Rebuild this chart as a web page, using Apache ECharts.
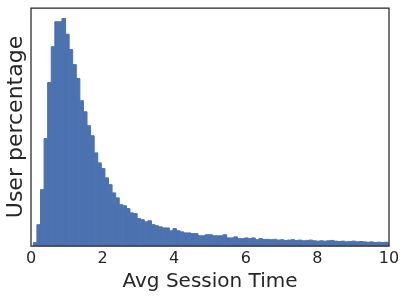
<!DOCTYPE html>
<html>
<head>
<meta charset="utf-8">
<script src="https://cdn.jsdelivr.net/npm/echarts@6/dist/echarts.min.js"></script>
<style>
html,body{margin:0;padding:0;background:#fff;}
#c{width:405px;height:297px;}
</style>
</head>
<body>
<div id="c"></div>
<script>
// Histogram data: bin start, bin width, and user percentage per bin
var binStart = 0.065;
var binWidth = 0.1;
var userPct = [
  0.11, 0.61, 1.59, 3.02, 4.59, 5.59, 6.29, 6.29, 6.38, 5.94,
  5.51, 5.09, 4.70, 4.08, 3.77, 3.38, 3.10, 2.62, 2.34, 2.18,
  1.92, 1.73, 1.50, 1.36, 1.17, 1.14, 1.06, 0.94, 0.92, 0.78,
  0.75, 0.69, 0.72, 0.61, 0.58, 0.55, 0.52, 0.52, 0.44, 0.50,
  0.44, 0.41, 0.38, 0.38, 0.36, 0.36, 0.30, 0.30, 0.33, 0.33,
  0.30, 0.30, 0.30, 0.33, 0.24, 0.24, 0.27, 0.22, 0.22, 0.24,
  0.22, 0.24, 0.19, 0.22, 0.20, 0.20, 0.19, 0.20, 0.18, 0.19,
  0.17, 0.18, 0.19, 0.17, 0.18, 0.16, 0.17, 0.18, 0.16, 0.15,
  0.16, 0.15, 0.16, 0.17, 0.15, 0.14, 0.15, 0.13, 0.14, 0.15,
  0.13, 0.14, 0.13, 0.12, 0.13, 0.11, 0.12, 0.11, 0.12, 0.10
];
var xTicks = [0, 2, 4, 6, 8, 10];
var xTitle = 'Avg Session Time';
var yTitle = 'User percentage';

var histData = userPct.map(function (v, i) {
  var x0 = binStart + i * binWidth;
  return [x0, x0 + binWidth, v];
});

var chart = echarts.init(document.getElementById('c'), null, {renderer: 'canvas'});
var font = 'DejaVu Sans';
chart.setOption({
  animation: false,
  backgroundColor: '#ffffff',
  grid: {
    left: 31, top: 8, width: 358, height: 238,
    show: true, borderColor: '#262626', borderWidth: 1.25,
    backgroundColor: 'transparent', containLabel: false,
    outerBoundsMode: 'none', z: 10
  },
  xAxis: {
    type: 'value', min: 0, max: 10, interval: 2,
    name: xTitle, nameLocation: 'middle', nameGap: 24,
    nameTextStyle: {fontFamily: font, fontSize: 20, color: '#262626'},
    axisLine: {show: false}, axisTick: {show: false}, splitLine: {show: false},
    axisLabel: {fontFamily: font, fontSize: 16, color: '#262626', margin: 5,
      formatter: function (v) { return xTicks.indexOf(v) >= 0 ? String(v) : ''; }}
  },
  yAxis: {
    type: 'value', min: 0, max: 6.66,
    name: yTitle, nameLocation: 'middle', nameGap: 4,
    nameTextStyle: {fontFamily: font, fontSize: 22, color: '#262626'},
    axisLine: {show: false}, axisTick: {show: false}, splitLine: {show: false},
    axisLabel: {show: false}
  },
  series: [{
    type: 'custom',
    clip: true,
    data: histData,
    encode: {x: [0, 1], y: 2},
    renderItem: function (params, api) {
      var p0 = api.coord([api.value(0), api.value(2)]);
      var p1 = api.coord([api.value(1), 0]);
      var rect = {x: p0[0], y: p0[1] + 0.5, width: p1[0] - p0[0], height: p1[1] - p0[1] - 0.5};
      var shape = echarts.graphic.clipRectByRect(rect, {
        x: params.coordSys.x, y: params.coordSys.y,
        width: params.coordSys.width, height: params.coordSys.height
      });
      if (!shape) return null;
      return {type: 'rect', shape: shape,
        style: {fill: '#4c72b0', stroke: '#4c72b0', lineWidth: 1}};
    }
  }]
});
</script>
</body>
</html>
